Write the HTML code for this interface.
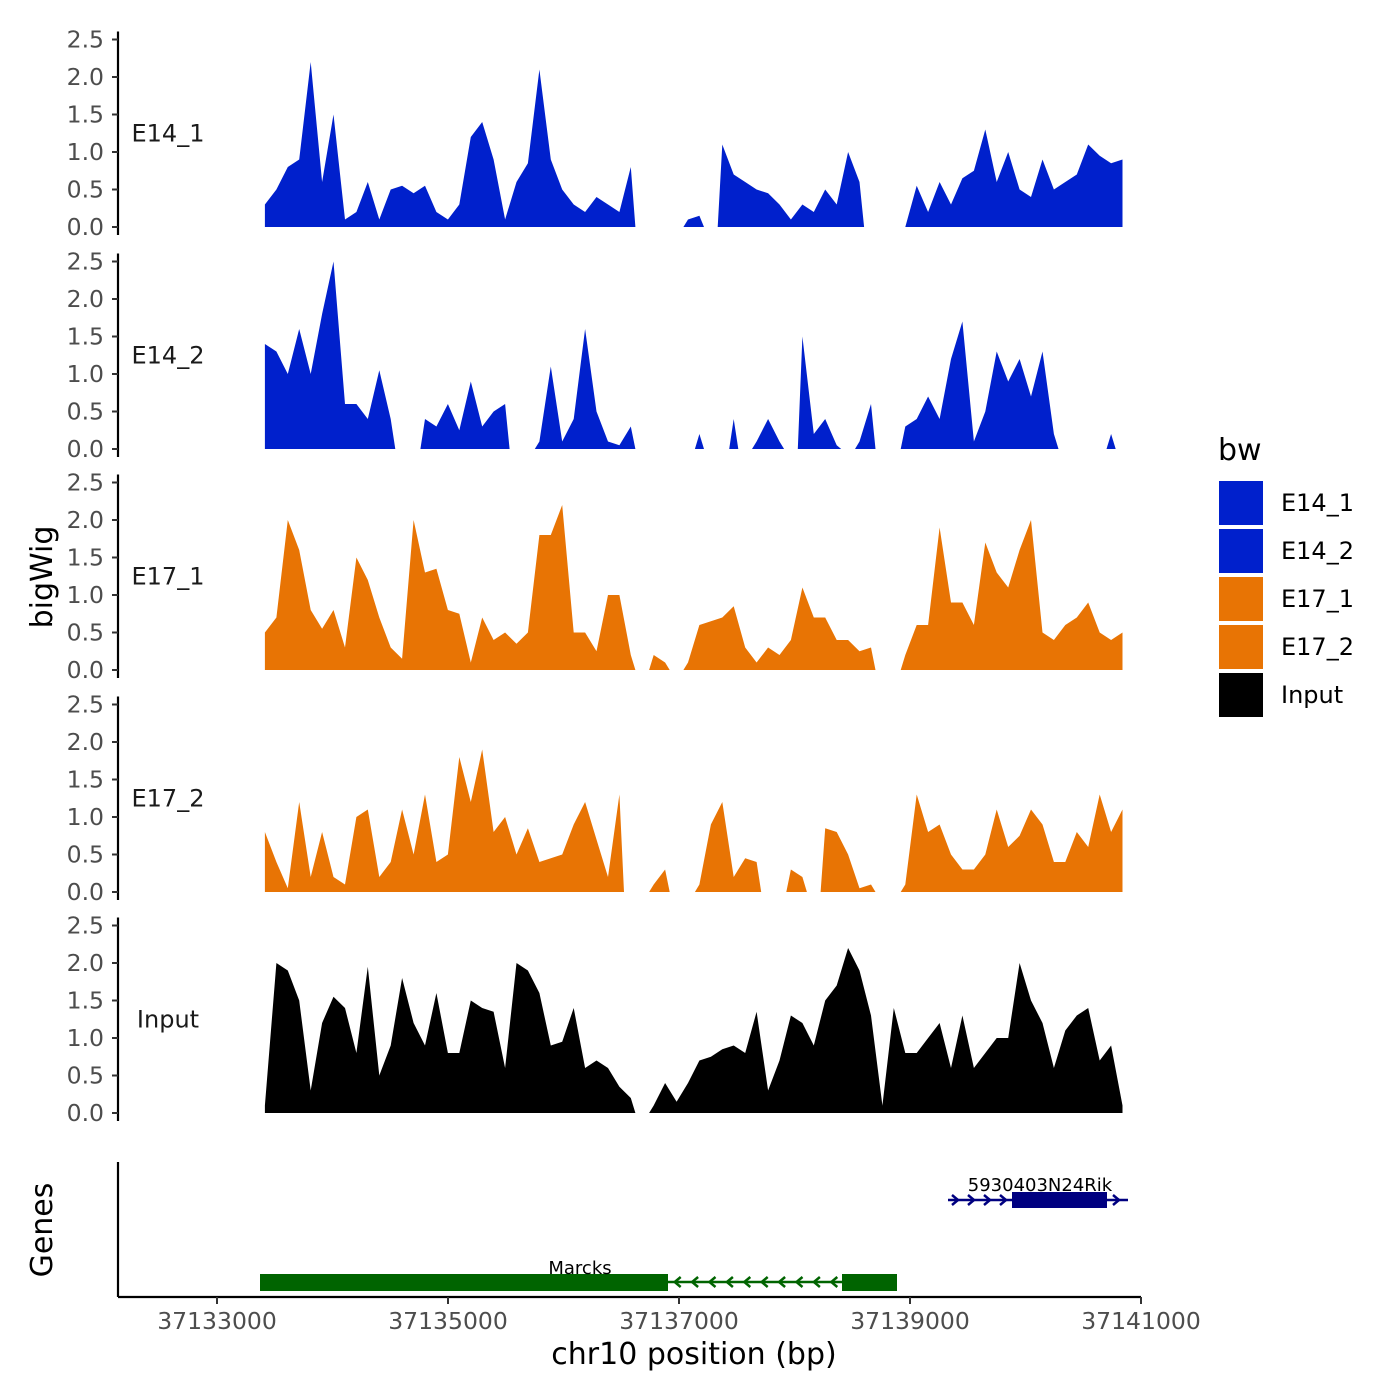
<!DOCTYPE html>
<html><head><meta charset="utf-8"><style>
html,body{margin:0;padding:0;background:#fff;}
svg{display:block;font-family:"DejaVu Sans","Liberation Sans",sans-serif;}
</style></head><body>
<svg id="chart" width="1400" height="1400" viewBox="0 0 1400 1400">
<g id="panels"></g>
<g id="genes"></g>
<g id="xaxis"></g>
<text x="52" y="577" font-size="30" text-anchor="middle" transform="rotate(-90 52 577)">bigWig</text>
<text x="52" y="1230" font-size="30" text-anchor="middle" transform="rotate(-90 52 1230)">Genes</text>
<text x="694" y="1364" font-size="30" text-anchor="middle">chr10 position (bp)</text>
<g id="legend"></g>
</svg>
<script>
const NS = 'http://www.w3.org/2000/svg';
const startBp = 37133415;
const stepBp = 99;
const sampleNames = ['E14_1','E14_2','E17_1','E17_2','Input'];
const sampleColors = ['#0020CC','#0020CC','#E87404','#E87404','#000000'];
const yTicks = [0,0.5,1,1.5,2,2.5];
const yTickLabels = ['0.0','0.5','1.0','1.5','2.0','2.5'];
const xTicks = [37133000,37135000,37137000,37139000,37141000];
const xTickLabels = ['37133000','37135000','37137000','37139000','37141000'];
const E14_1 = [0.3,0.5,0.8,0.9,2.2,0.6,1.5,0.1,0.2,0.6, 0.1,0.5,0.55,0.45,0.55,0.2,0.1,0.3,1.2,1.4, 0.9,0.1,0.6,0.85,2.1,0.9,0.5,0.3,0.2,0.4, 0.3,0.2,0.8,null,null,null,null,0.1,0.15,null, 1.1,0.7,0.6,0.5,0.45,0.3,0.1,0.3,0.2,0.5, 0.3,1.0,0.6,null,null,null,0,0.55,0.2,0.6, 0.3,0.65,0.75,1.3,0.6,1.0,0.5,0.4,0.9,0.5, 0.6,0.7,1.1,0.95,0.85,0.9];
const E14_2 = [1.4,1.3,1.0,1.6,1.0,1.8,2.5,0.6,0.6,0.4, 1.05,0.4,null,null,0.4,0.3,0.6,0.25,0.9,0.3, 0.5,0.6,null,null,0.1,1.1,0.1,0.4,1.6,0.5, 0.1,0.05,0.3,null,null,null,null,null,0.2,null, null,0.4,null,0.1,0.4,0.1,null,1.5,0.2,0.4, 0.05,null,0.1,0.6,null,null,0.3,0.4,0.7,0.4, 1.2,1.7,0.1,0.5,1.3,0.9,1.2,0.7,1.3,0.2, null,null,null,null,0.2,null];
const E17_1 = [0.5,0.7,2.0,1.6,0.8,0.55,0.8,0.3,1.5,1.2, 0.7,0.3,0.15,2.0,1.3,1.35,0.8,0.75,0.1,0.7, 0.4,0.5,0.35,0.5,1.8,1.8,2.2,0.5,0.5,0.25, 1.0,1.0,0.2,null,0.2,0.1,null,0.1,0.6,0.65, 0.7,0.85,0.3,0.1,0.3,0.2,0.4,1.1,0.7,0.7, 0.4,0.4,0.25,0.3,null,null,0.2,0.6,0.6,1.9, 0.9,0.9,0.6,1.7,1.3,1.1,1.6,2.0,0.5,0.4, 0.6,0.7,0.9,0.5,0.4,0.5];
const E17_2 = [0.8,0.4,0.05,1.2,0.2,0.8,0.2,0.1,1.0,1.1, 0.2,0.4,1.1,0.5,1.3,0.4,0.5,1.8,1.2,1.9, 0.8,1.0,0.5,0.85,0.4,0.45,0.5,0.9,1.2,0.7, 0.2,1.3,null,null,0.1,0.3,null,null,0.1,0.9, 1.2,0.2,0.45,0.4,null,null,0.3,0.2,null,0.85, 0.8,0.5,0.05,0.1,null,null,0.1,1.3,0.8,0.9, 0.5,0.3,0.3,0.5,1.1,0.6,0.75,1.1,0.9,0.4, 0.4,0.8,0.6,1.3,0.8,1.1];
const Input = [0.1,2.0,1.9,1.5,0.3,1.2,1.55,1.4,0.8,1.95, 0.5,0.9,1.8,1.2,0.9,1.6,0.8,0.8,1.5,1.4, 1.35,0.6,2.0,1.9,1.6,0.9,0.95,1.4,0.6,0.7, 0.6,0.35,0.2,null,0.1,0.4,0.15,0.4,0.7,0.75, 0.85,0.9,0.8,1.35,0.3,0.7,1.3,1.2,0.9,1.5, 1.7,2.2,1.9,1.3,0.1,1.4,0.8,0.8,1.0,1.2, 0.6,1.3,0.6,0.8,1.0,1.0,2.0,1.5,1.2,0.6, 1.1,1.3,1.4,0.7,0.9,0.1];
const seriesValues = [E14_1,E14_2,E17_1,E17_2,Input];

function xScale(bp){ return 217 + (bp - 37133000) * 924 / 8000; }
const panelZero = [227,449,670,892,1113];
function yScale(p, v){ return panelZero[p] - v * 75; }
function mk(tag, attrs, parent){
  const el = document.createElementNS(NS, tag);
  for (const k in attrs) el.setAttribute(k, attrs[k]);
  parent.appendChild(el);
  return el;
}
const panels = document.getElementById('panels');
seriesValues.forEach((vals, p) => {
  const g = mk('g', {}, panels);
  
  
  const ax = mk('line', {x1:118,x2:118,y1:yScale(p,2.5)-8,y2:yScale(p,0)+8,stroke:'#000','stroke-width':2.2}, g);
  
  
  yTicks.forEach((t, i) => {
    const y = yScale(p, t);
    const tk = mk('line', {x1:112,x2:118,y1:y,y2:y,stroke:'#333','stroke-width':2}, g);
    
    
    const tl = mk('text', {x:104,y:y+8,'font-size':23.5,'text-anchor':'end',fill:'#4d4d4d'}, g);
    tl.textContent = yTickLabels[i];
    
    
  });
  const lab = mk('text', {x:168,y:yScale(p,1.25)+8,'font-size':24,'text-anchor':'middle',fill:'#1a1a1a'}, g);
  lab.textContent = sampleNames[p];
  
  
  let run = [];
  const flush = () => {
    if (!run.length) return;
    const first = run[0][0], last = run[run.length-1][0];
    const x0 = first === 0 ? xScale(startBp) : xScale(startBp + (first-0.4)*stepBp);
    const x1 = last === vals.length-1 ? xScale(startBp + last*stepBp) : xScale(startBp + (last+0.4)*stepBp);
    let pts = [x0.toFixed(1) + ',' + yScale(p,0)];
    run.forEach(r => pts.push(xScale(startBp + r[0]*stepBp).toFixed(1) + ',' + yScale(p, r[1]).toFixed(1)));
    pts.push(x1.toFixed(1) + ',' + yScale(p,0));
    const poly = mk('polygon', {points: pts.join(' '), fill: sampleColors[p]}, g);
    
    
    run = [];
  };
  vals.forEach((v, i) => { if (v === null) flush(); else run.push([i, v]); });
  flush();
});

const genes = document.getElementById('genes');
const gax = mk('line', {x1:118,x2:118,y1:1162,y2:1297,stroke:'#000','stroke-width':2.2}, genes);


function chevrons(x1, x2, y, dir, color, spacing, parent){
  for (let x = x1 + spacing/2; x < x2; x += spacing){
    const d = dir > 0 ? `M${x-4},${y-5} L${x+2},${y} L${x-4},${y+5}` : `M${x+4},${y-5} L${x-2},${y} L${x+4},${y+5}`;
    const c = mk('path', {d:d, stroke:color, 'stroke-width':2.5, fill:'none'}, parent);
    
    
  }
}
const gm = mk('g', {}, genes);


mk('line', {x1:668,x2:842,y1:1282,y2:1282,stroke:'#006400','stroke-width':2.5}, gm);
chevrons(668, 842, 1282, -1, '#006400', 17.4, gm);
mk('rect', {x:260,y:1274,width:408,height:17,fill:'#006400'}, gm);
mk('rect', {x:842,y:1274,width:55,height:17,fill:'#006400'}, gm);
const ml = mk('text', {x:580,y:1274,'font-size':18,'text-anchor':'middle'}, gm);
ml.textContent = 'Marcks';
const gr = mk('g', {}, genes);


mk('line', {x1:948,x2:1128,y1:1200,y2:1200,stroke:'#000080','stroke-width':2.5}, gr);
chevrons(948, 1012, 1200, 1, '#000080', 16, gr);
chevrons(1107, 1130, 1200, 1, '#000080', 20, gr);
mk('rect', {x:1012,y:1192,width:95,height:16,fill:'#000080'}, gr);
const rl = mk('text', {x:1040,y:1191,'font-size':18,'text-anchor':'middle'}, gr);
rl.textContent = '5930403N24Rik';

const xa = document.getElementById('xaxis');
mk('line', {x1:118,x2:1141,y1:1297,y2:1297,stroke:'#000','stroke-width':2.2}, xa);
xTicks.forEach((t, i) => {
  const x = xScale(t);
  const tk = mk('line', {x1:x,x2:x,y1:1297,y2:1304,stroke:'#333','stroke-width':2}, xa);
  
  
  const tl = mk('text', {x:x,y:1329,'font-size':23.5,'text-anchor':'middle',fill:'#4d4d4d'}, xa);
  tl.textContent = xTickLabels[i];
  
  
});

const lg = document.getElementById('legend');
const lt = mk('text', {x:1218,y:460,'font-size':30}, lg);
lt.textContent = 'bw';


sampleNames.forEach((n, i) => {
  const y = 480 + i * 48;
  const e = mk('g', {}, lg);
  
  
  mk('rect', {x:1218,y:y,width:46,height:46,fill:sampleColors[i],stroke:'#fff','stroke-width':2}, e);
  const t = mk('text', {x:1281,y:y+31,'font-size':24}, e);
  t.textContent = n;
});
</script>
</body></html>
